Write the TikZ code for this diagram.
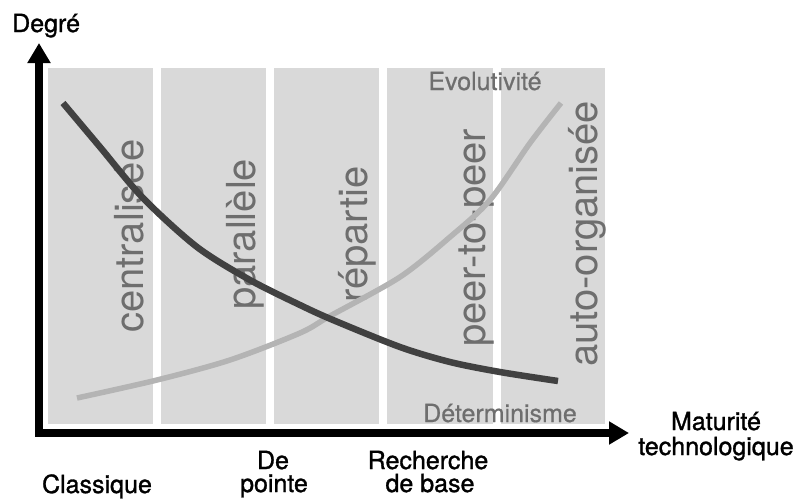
\documentclass[tikz,border=0pt]{standalone}
\usepackage{fontspec}
\setmainfont{TeX Gyre Heros}
\newfontfamily\medfont{TeX Gyre Heros}[FakeBold=1.2]
\newfontfamily\semifont{TeX Gyre Heros}[FakeBold=0.6]
\usetikzlibrary{arrows.meta}
\definecolor{colgray}{HTML}{D9D9D9}
\definecolor{labgray}{HTML}{6E6E6E}
\definecolor{darkcurve}{HTML}{414141}
\definecolor{lightcurve}{HTML}{B4B4B4}
\tikzset{
  column/.style={fill=colgray, draw=none},
  blab/.style={inner sep=0pt, text=black, font=\medfont\fontsize{25}{30}\selectfont},
  glab/.style={inner sep=0pt, text=labgray, font=\semifont\fontsize{25}{30}\selectfont},
  rlab/.style={inner sep=0pt, text=labgray, font=\fontsize{40}{48}\selectfont, rotate=90, anchor=base west},
  axisline/.style={line width=8pt, line join=miter, {Triangle[length=20pt,width=22pt]}-{Triangle[length=20pt,width=22pt]}},
  curvedark/.style={line width=6.5pt, draw=darkcurve},
  curvelight/.style={line width=5.5pt, draw=lightcurve}
}
\begin{document}
\begin{tikzpicture}[x=1pt,y=-1pt]
\useasboundingbox (0,0) rectangle (806,499);
% columns
\fill[column] (48,68) rectangle (153,424);
\fill[column] (161,68) rectangle (266,424);
\fill[column] (274,68) rectangle (379,424);
\fill[column] (387,68) rectangle (493,424);
\fill[column] (501,68) rectangle (605,424);
% rotated labels
\node[rlab] (centr) at (143,333) {centralisée};
\node[rlab] (para) at (255,310) {parallèle};
\node[rlab] (rep) at (367,303) {répartie};
\node[rlab] (p2p) at (485,347) {peer-to-peer};
\node[rlab] (auto) at (597,367) {auto-organisée};
% curves
\draw[curvelight] plot[smooth, tension=0.5] coordinates {(77,398) (157,380) (230,360) (300,333) (330,316) (400,277) (450,237) (490,200) (530,143) (561,103)};
\draw[curvedark] plot[smooth, tension=0.5] coordinates {(63,103) (100,147) (143,198) (197,247) (250,280) (300,305) (333,320) (400,347) (450,362) (500,372) (558,381)};
% gray labels
\node[glab, anchor=base] (evo) at (485,90) {Evolutivité};
\node[glab, anchor=base] (det) at (500,422) {Déterminisme};
% axes
\coordinate (ytip) at (39,43);
\coordinate (origin) at (39,433);
\coordinate (xtip) at (629,433);
\draw[axisline] (ytip) -- (origin) -- (xtip);
% black labels
\node[blab, anchor=base west] (deg) at (12,32) {Degré};
\node[blab, anchor=base] (mat) at (716,430) {Maturité};
\node[blab, anchor=base] (tech) at (716,455) {technologique};
\node[blab, anchor=base] (cla) at (97,493) {Classique};
\node[blab, anchor=base] (de) at (273,469) {De};
\node[blab, anchor=base] (poi) at (274,492) {pointe};
\node[blab, anchor=base] (rec) at (428,469) {Recherche};
\node[blab, anchor=base] (deb) at (430,492) {de base};
\end{tikzpicture}
\end{document}
